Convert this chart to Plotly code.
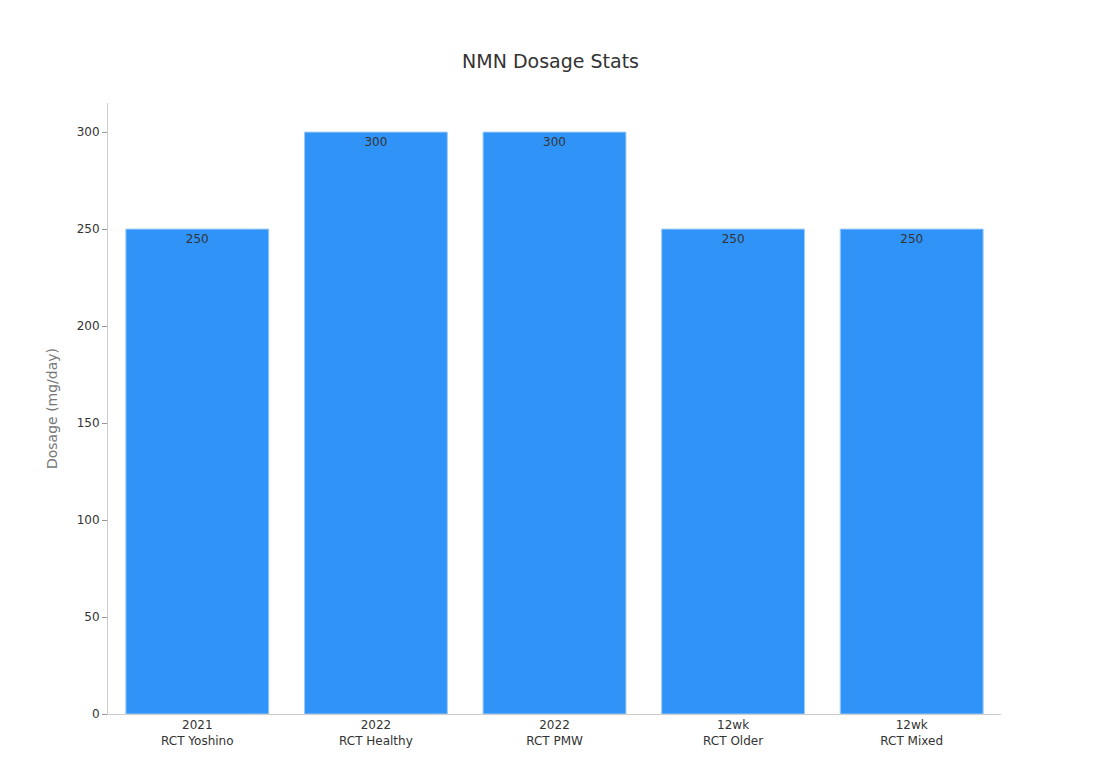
import plotly.graph_objects as go

studies = ["2021<br>RCT Yoshino", "2022<br>RCT Healthy", "2022<br>RCT PMW", "12wk<br>RCT Older", "12wk<br>RCT Mixed"]
dosage = [250, 300, 300, 250, 250]

fig = go.Figure(go.Bar(
    x=studies, y=dosage,
    text=dosage, textposition="inside", insidetextanchor="end",
    textfont=dict(color="#333333", size=12),
    marker=dict(color="#3093f8", line=dict(color="#9ecbf5", width=1)),
))

fig.update_layout(
    title=dict(text="NMN Dosage Stats", x=0.495, y=0.938, xanchor="center",
               font=dict(size=19, color="#333333")),
    font=dict(family="DejaVu Sans", size=12, color="#333333"),
    width=1096, height=758,
    margin=dict(l=100, r=103, t=95, b=52),
    plot_bgcolor="white", paper_bgcolor="white",
    bargap=0.2, showlegend=False,
)
fig.update_xaxes(showline=True, linecolor="#cccccc", ticks="", tickfont=dict(size=12))
fig.update_yaxes(range=[0, 315], dtick=50, showgrid=False, showline=True, linecolor="#cccccc",
                 ticks="outside", ticklen=5, tickcolor="#999999",
                 title=dict(text="Dosage (mg/day)", font=dict(size=14, color="#777777")))

fig.write_html("out.html")
